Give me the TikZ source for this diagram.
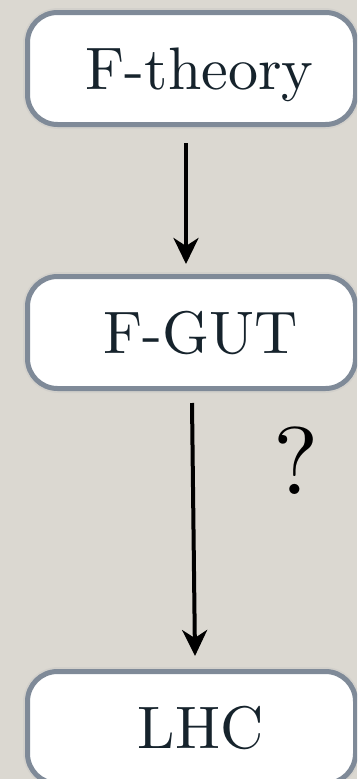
\documentclass[tikz,border=0pt]{standalone}
\usetikzlibrary{arrows.meta}
\usepackage{fontspec}
\setmainfont{lmroman10-regular.otf}
\definecolor{paper}{HTML}{DBD8D1}
\definecolor{frame}{HTML}{7F8A98}
\definecolor{ink}{HTML}{16232C}
\tikzset{
  stagebox/.style={draw=frame, fill=white, line width=5pt, rounded corners=30pt,
    minimum width=328pt, minimum height=112pt, inner sep=0pt,
    text=ink, font=\fontsize{60}{60}\selectfont, text height=42pt, text depth=0pt},
  flow/.style={line width=4pt, -{Stealth[length=26pt,width=25pt,inset=8pt]}},
}
\begin{document}
\begin{tikzpicture}[x=1pt,y=-1pt]
  \useasboundingbox (0,0) rectangle (357,779);
  \clip (0,0) rectangle (357,779);
  \fill[paper] (0,0) rectangle (357,779);

  % soft halo under each box
  \foreach \cy in {68.5,332.5,727.5}
    \draw[black!25, opacity=0.3, line width=9pt, rounded corners=31pt]
      (27.5,\cy-56) rectangle (355.5,\cy+56);

  \node[stagebox] (ft)  at (191.5,68.5)  {\hspace*{16pt}F-theory};
  \node[stagebox] (fg)  at (191.5,332.5) {\hspace*{18pt}F-GUT};
  \node[stagebox] (lhc) at (191.5,727.5) {\hspace*{18pt}LHC};

  \node[text=black, font=\fontsize{96}{96}\selectfont, inner sep=0pt] (q) at (296.5,461) {?};

  \draw[flow] ([xshift=-5.5pt,yshift=-16pt]ft.south) -- ([xshift=-5.5pt,yshift=10pt]fg.north);
  \draw[flow] ([xshift=0.5pt,yshift=-12pt]fg.south) -- ([xshift=3.5pt,yshift=13pt]lhc.north);
\end{tikzpicture}
\end{document}
